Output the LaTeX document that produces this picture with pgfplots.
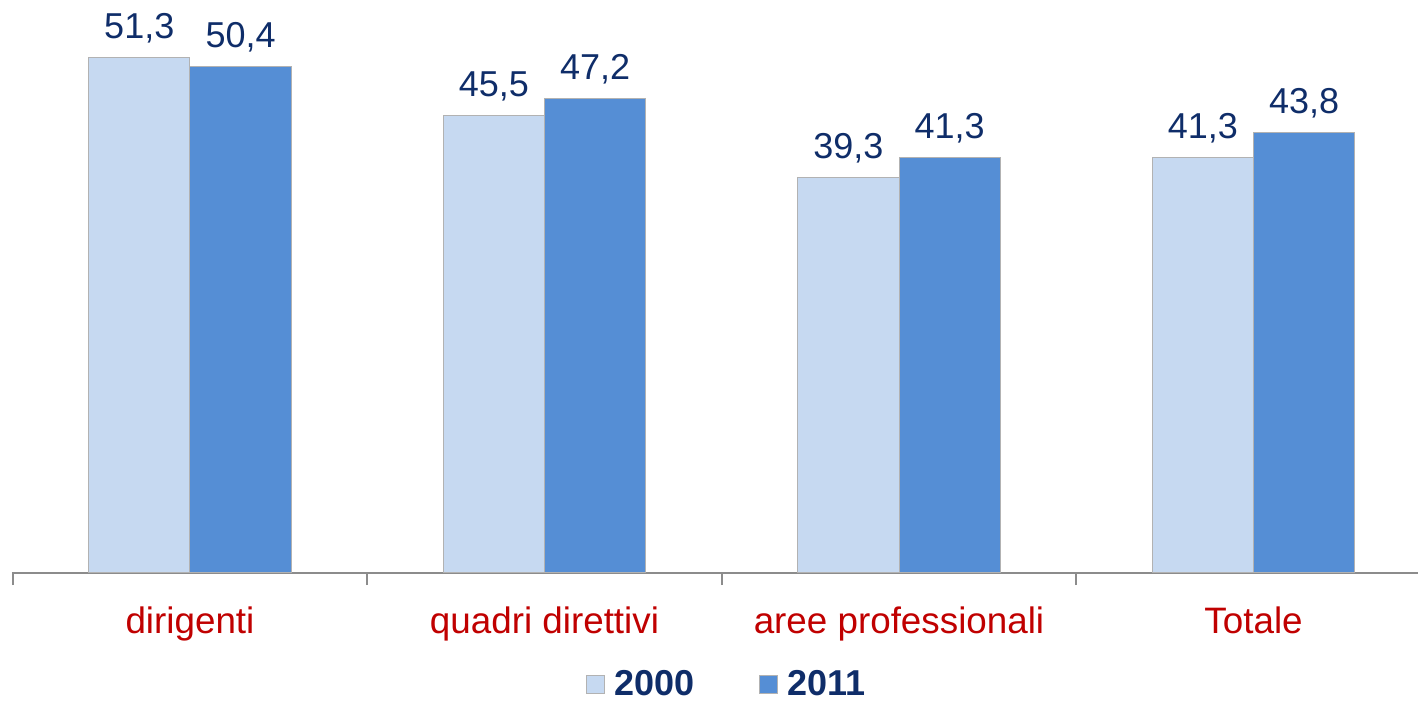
\documentclass[border=0pt]{standalone}
\usepackage{fontspec}
\setmainfont{Liberation Sans}
\usepackage{pgfplots}
\pgfplotsset{compat=1.18}
\definecolor{light}{HTML}{C6D9F1}
\definecolor{dark}{HTML}{558ED5}
\definecolor{navy}{HTML}{0F2D69}
\definecolor{redlab}{HTML}{C00000}
\definecolor{axisgray}{HTML}{8C8C8C}
\begin{document}
\begin{tikzpicture}
\begin{axis}[
  scale only axis,
  width=703pt, height=286.5pt,
  xmin=-0.502, xmax=3.464,
  ymin=0, ymax=57,
  clip=false,
  ybar=0pt, bar width=0.286,
  axis y line=none,
  axis x line*=bottom,
  x axis line style={axisgray, line width=0.8pt, -},
  xtick={0,1,2,3},
  xticklabels={dirigenti, quadri direttivi, aree professionali, Totale},
  major x tick style={draw=none},
  minor xtick={-0.5,0.5,1.5,2.5,3.5},
  minor x tick style={axisgray, line width=0.8pt},
  tick align=outside,
  minor tick length=6pt,
  xticklabel style={font=\fontsize{18.4}{20}\selectfont, text=redlab, anchor=base, yshift=-26pt},
  nodes near coords,
  every node near coord/.append style={font=\fontsize{18}{20}\selectfont, text=navy, anchor=base, yshift=9.5pt},
  /pgf/number format/.cd, use comma, fixed, fixed zerofill, precision=1, assume math mode=true,
  /pgfplots/.cd,
  legend columns=2,
  legend style={draw=none, at={(0.509,-0.159)}, anchor=north, inner sep=1pt, font=\fontsize{18}{20}\selectfont\bfseries, text=navy,
    /tikz/every even column/.append style={column sep=30pt}},
  legend image code/.code={\fill[#1] (0pt,-4.5pt) rectangle (9pt,4.5pt); \path (12pt,0);},
]
\addplot[fill=light, draw=gray!60, line width=0.5pt] coordinates {(0,51.3) (1,45.5) (2,39.3) (3,41.3)};
\addlegendentry{2000}
\addplot[fill=dark, draw=gray!60, line width=0.5pt] coordinates {(0,50.4) (1,47.2) (2,41.3) (3,43.8)};
\addlegendentry{2011}
\coordinate (L) at (rel axis cs:0,0);
\coordinate (R) at (rel axis cs:1,1);
\end{axis}
\pgfresetboundingbox
\path ([xshift=-6pt,yshift=-64pt]L) rectangle (R);
\end{tikzpicture}
\end{document}
